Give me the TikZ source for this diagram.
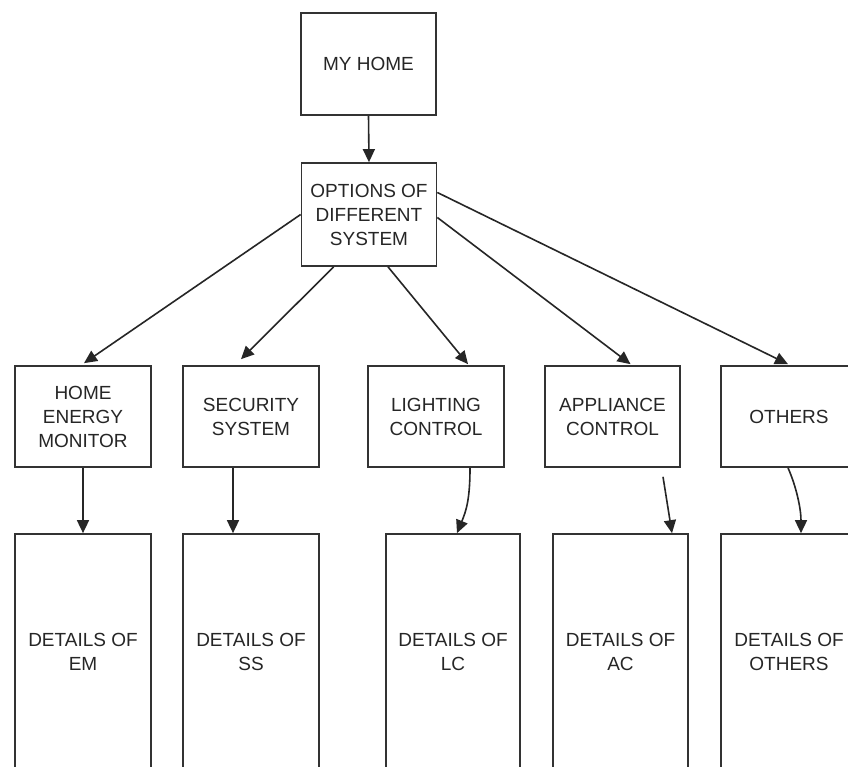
\documentclass[tikz,border=0pt]{standalone}
\usepackage{fontspec}
\setmainfont{Liberation Sans}
\usetikzlibrary{arrows.meta,calc}
\begin{document}
\begin{tikzpicture}[x=1pt,y=-1pt,
  box/.style={draw=black!80, line width=1.7pt, fill=white, align=center, inner sep=0pt,
    text=black!85, font=\fontsize{19}{24}\selectfont},
  top/.style={box, minimum width=135pt, minimum height=102pt},
  mid/.style={box, minimum width=136pt, minimum height=101pt},
  det/.style={box, minimum width=135pt, minimum height=236pt},
  conn/.style={draw=black!85, line width=1.6pt, -{Triangle[length=13pt,width=12pt]}}]
\useasboundingbox (0,0) rectangle (848,766);
\fill[white] (0,0) rectangle (848,766);
\clip (0,0) rectangle (848,766);
% top
\node[top] (home) at (368.5,64) {MY HOME};
\node[top, minimum height=103pt] (opt) at (369,214.5) {OPTIONS OF\\DIFFERENT\\SYSTEM};
% middle row
\node[mid] (hem) at (83,416.5) {HOME\\ENERGY\\MONITOR};
\node[mid] (sec) at (251,416.5) {SECURITY\\SYSTEM};
\node[mid] (lig) at (436,416.5) {LIGHTING\\CONTROL};
\node[mid, minimum width=135pt] (app) at (612.5,416.5) {APPLIANCE\\CONTROL};
\node[mid] (oth) at (789,416.5) {OTHERS};
% details row
\node[det, minimum width=136pt] (dem) at (83,652) {DETAILS OF\\EM};
\node[det, minimum width=136pt] (dss) at (251,652) {DETAILS OF\\SS};
\node[det, minimum width=134pt] (dlc) at (453,652) {DETAILS OF\\LC};
\node[det] (dac) at (620.5,652) {DETAILS OF\\AC};
\node[det, minimum width=136pt] (dot) at (789,652) {DETAILS OF\\OTHERS};
% connectors
\draw[conn] (home.south) -- (opt.north);
\draw[conn] (opt.west) -- ($(hem.north)+(1,-2)$);
\draw[conn] ($(opt.south west)+(33,0)$) -- ($(sec.north)+(-10,-6)$);
\draw[conn] ($(opt.south)+(19,0)$) -- ($(lig.north)+(32,-1)$);
\draw[conn] ($(opt.east)+(0,3)$) -- ($(app.north)+(18,-1)$);
\draw[conn] ($(opt.east)+(0,-22)$) -- ($(oth.north)+(-1,-1)$);
\draw[conn] (hem.south) -- (dem.north);
\draw[conn] ($(sec.south)+(-18,0)$) -- ($(dss.north)+(-18,0)$);
\draw[conn] ($(lig.south)+(34,0)$) .. controls +(0,32) and +(9,-22) .. ($(dlc.north)+(4,0)$);
\coordinate (acstart) at ($(app.south)+(50.5,9)$);
\draw[conn] (acstart) -- ($(dac.north)+(51.5,0)$);
\draw[conn] ($(oth.south)+(-1,0)$) .. controls +(8,18) and +(0,-25) .. ($(dot.north)+(12,0)$);
\end{tikzpicture}
\end{document}
